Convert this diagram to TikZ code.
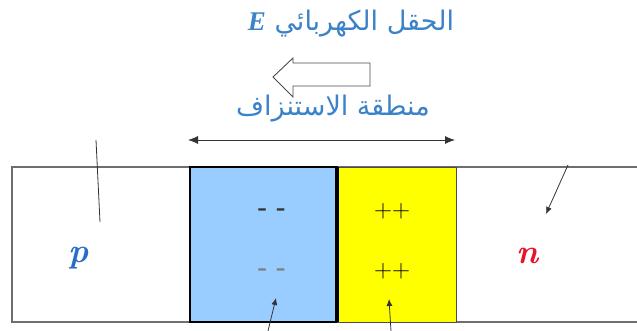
\documentclass[tikz,border=0pt]{standalone}
\usepackage{fontspec}
\usetikzlibrary{arrows.meta}
\TeXXeTstate=1
\newfontfamily\arabicfont[Script=Arabic]{DejaVu Sans}
\definecolor{txtblue}{RGB}{60,130,200}
\definecolor{pblue}{RGB}{40,110,200}
\definecolor{lblue}{RGB}{153,204,255}
\definecolor{ylw}{RGB}{255,255,0}
\definecolor{nred}{RGB}{230,20,40}
\definecolor{edge}{RGB}{110,110,110}
\tikzset{
  lbl/.style={inner sep=0pt, font=\arabicfont\fontsize{27}{30}\selectfont, text=txtblue},
  sign/.style={inner sep=0pt, font=\fontsize{25}{27}\selectfont},
  ptr/.style={draw=black!80, line width=0.8pt, -{Latex[length=7pt,width=6pt]}},
  letter/.style={inner sep=0pt, font=\fontsize{34}{36}\selectfont\bfseries\itshape}
}
\begin{document}
\begin{tikzpicture}[x=1pt,y=-1pt]
\useasboundingbox (0,0) rectangle (637,331);
% main bar
\draw[edge, line width=1.3pt] (637,167) -- (12,167) -- (12,322) -- (637,322);
% depletion regions
\filldraw[fill=lblue, draw=black, line width=1.2pt] (190,167) rectangle (337,322);
\filldraw[fill=ylw, draw=black!70, line width=0.8pt] (337,167) rectangle (456,322);
\draw[black, line width=4pt] (337,167) -- (337,322);
% signs
\node[sign, text=black!80] (m1) at (272,212) {\textbf{-}\hspace{9pt}\textbf{-}};
\node[sign, text=black!50] (m2) at (272,272) {\textbf{-}\hspace{9pt}\textbf{-}};
\node[sign] (p1) at (392,211) {++};
\node[sign] (p2) at (392,271) {++};
% letters
\node[letter, text=pblue] (p) at (79,258) {p};
\node[letter, text=nred] (n) at (528,256) {n};
% pointers
\coordinate (pl1) at (96,140);
\coordinate (pl2) at (100,222);
\draw[draw=black!80, line width=0.8pt] (pl1) -- (pl2);
\coordinate (nl1) at (568,165);
\coordinate (nl2) at (546,214);
\draw[ptr] (nl1) -- (nl2);
\coordinate (bl1) at (268,331);
\coordinate (bl2) at (276,298);
\draw[ptr] (bl1) -- (bl2);
\coordinate (yl1) at (391,331);
\coordinate (yl2) at (389,299);
\draw[ptr] (yl1) -- (yl2);
% depletion width arrow
\coordinate (dl) at (188,140);
\coordinate (dr) at (455,140);
\draw[draw=black!80, line width=0.8pt, {Latex[length=10pt,width=8pt]}-{Latex[length=10pt,width=8pt]}] (dl) -- (dr);
\node[lbl] (dep) at (333,109) {\beginR منطقة الاستنزاف\endR};
% hollow arrow
\draw[black!70, line width=0.9pt, fill=white] (273,77) -- (293,58) -- (293,63) -- (370,63) -- (370,86) -- (293,86) -- (293,97) -- cycle;
% title
\node[lbl] (title) at (351,24) {{\fontspec{Liberation Serif}\fontsize{27}{30}\selectfont\bfseries\itshape E}\ \beginR الحقل الكهربائي\endR};
\end{tikzpicture}
\end{document}
